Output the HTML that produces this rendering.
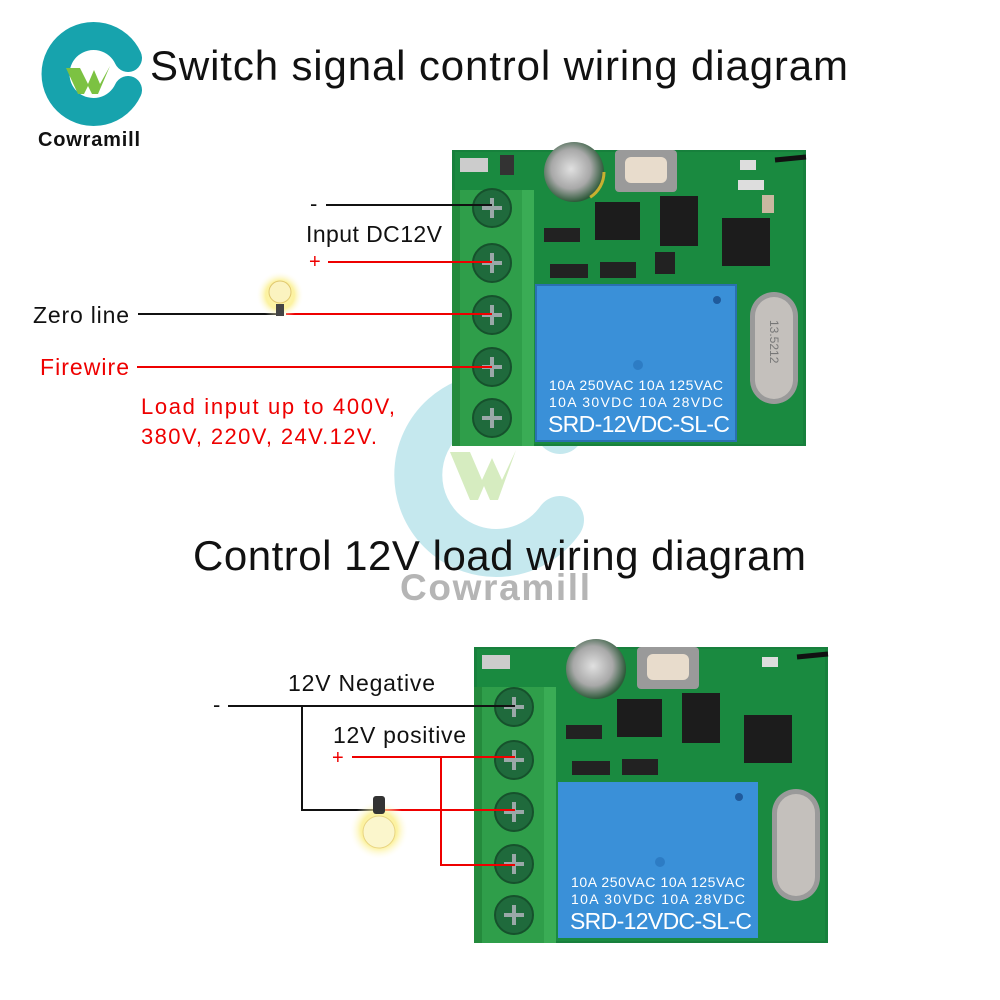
<!DOCTYPE html>
<html><head><meta charset="utf-8"><style>
html,body{margin:0;padding:0;background:#fff;}
svg{display:block;font-family:"Liberation Sans",sans-serif;}
</style></head><body>
<svg width="1000" height="1000" viewBox="0 0 1000 1000" xmlns="http://www.w3.org/2000/svg">
<defs>
<radialGradient id="glow" cx="50%" cy="50%" r="50%"><stop offset="0" stop-color="#fff7b0"/><stop offset="0.6" stop-color="#fbef8a" stop-opacity="0.8"/><stop offset="1" stop-color="#fff" stop-opacity="0"/></radialGradient>
<radialGradient id="cap" cx="45%" cy="45%" r="55%"><stop offset="0" stop-color="#e0e0e0"/><stop offset="0.6" stop-color="#a8a8a8"/><stop offset="1" stop-color="#2e5a3a"/></radialGradient>
</defs>

<path d="M128 58 A38 38 0 1 0 128 90" fill="none" stroke="#17a3ad" stroke-width="28" stroke-linecap="round"/>
<path d="M66 68 L80 68 L88 84 L94 70 L100 84 L110 66 L98 94 L92 94 L88 86 L84 94 L78 94 Z" fill="#7cc242"/>
<text x="38" y="146" font-size="20" font-weight="bold" fill="#111" textLength="102">Cowramill</text>

<text x="150" y="80" font-size="42" fill="#111" textLength="698">Switch signal control wiring diagram</text>

<path d="M560 430 A78 78 0 1 0 560 520" fill="none" stroke="#bfe6ec" stroke-width="48" stroke-linecap="round" opacity="0.9"/>
<path d="M450 452 L470 452 L482 480 L492 458 L502 480 L516 450 L498 500 L490 500 L484 486 L478 500 L470 500 Z" fill="#d6ecc0"/>
<text x="400" y="600" font-size="37" font-weight="bold" fill="#b5b5b5" textLength="190">Cowramill</text>

<text x="193" y="570" font-size="42" fill="#111" textLength="613">Control 12V load wiring diagram</text>

<g>
<rect x="452" y="150" width="354" height="296" fill="#17803c"/>
<rect x="455" y="152" width="348" height="292" fill="#1a8a40"/>
<circle cx="574" cy="172" r="30" fill="url(#cap)"/>
<circle cx="574" cy="172" r="30" fill="none" stroke="#c8b030" stroke-width="3" stroke-dasharray="30 160"/>
<rect x="615" y="150" width="62" height="42" rx="4" fill="#9a9a9a"/>
<rect x="625" y="157" width="42" height="26" rx="6" fill="#e8dccc"/>
<rect x="660" y="196" width="38" height="50" fill="#1c1c1c"/>
<rect x="595" y="202" width="45" height="38" fill="#1c1c1c"/>
<rect x="722" y="218" width="48" height="48" fill="#1c1c1c"/>
<rect x="544" y="228" width="36" height="14" fill="#222"/>
<rect x="550" y="264" width="38" height="14" fill="#222"/>
<rect x="600" y="262" width="36" height="16" fill="#222"/>
<rect x="655" y="252" width="20" height="22" fill="#222"/>
<rect x="500" y="155" width="14" height="20" fill="#333"/>
<rect x="460" y="158" width="28" height="14" fill="#ccc"/>
<rect x="740" y="160" width="16" height="10" fill="#ddd"/>
<rect x="738" y="180" width="26" height="10" fill="#ddd"/>
<rect x="762" y="195" width="12" height="18" fill="#c9b8a0"/>
<line x1="775" y1="160" x2="806" y2="157" stroke="#111" stroke-width="5"/>
<rect x="452" y="190" width="80" height="256" fill="#2f9e4a"/>
<rect x="522" y="190" width="12" height="256" fill="#3aac55"/>
<rect x="452" y="190" width="8" height="256" fill="#248a3c"/>
<g fill="#1f6a3c" stroke="#16512c" stroke-width="2">
<circle cx="492" cy="208" r="19"/><circle cx="492" cy="263" r="19"/><circle cx="492" cy="315" r="19"/><circle cx="492" cy="367" r="19"/><circle cx="492" cy="418" r="19"/>
</g>
<g stroke="#9aa8a8" stroke-width="4">
<path d="M482 208 H502 M492 198 V218 M482 263 H502 M492 253 V273 M482 315 H502 M492 305 V325 M482 367 H502 M492 357 V377 M482 418 H502 M492 408 V428"/>
</g>
<rect x="536" y="285" width="200" height="156" fill="#3a90d8"/>
<rect x="536" y="285" width="200" height="156" fill="none" stroke="#2a70b0" stroke-width="2"/>
<circle cx="717" cy="300" r="4" fill="#1f5a9c"/>
<circle cx="638" cy="365" r="5" fill="#2d7cc4"/>
<text x="549" y="390" font-size="14" fill="#fff" textLength="174">10A 250VAC  10A 125VAC</text>
<text x="549" y="407" font-size="14" fill="#fff" textLength="174">10A  30VDC  10A  28VDC</text>
<text x="548" y="432" font-size="23" fill="#fff" textLength="182">SRD-12VDC-SL-C</text>
<rect x="750" y="292" width="48" height="112" rx="24" fill="#9a9a9a"/>
<rect x="755" y="297" width="38" height="102" rx="19" fill="#c4c0bc"/>
<text x="770" y="320" font-size="12" fill="#777" transform="rotate(90 770 320)">13.5212</text>
</g>

<g transform="translate(22,497)">
<rect x="452" y="150" width="354" height="296" fill="#17803c"/>
<rect x="455" y="152" width="348" height="292" fill="#1a8a40"/>
<circle cx="574" cy="172" r="30" fill="url(#cap)"/>
<rect x="615" y="150" width="62" height="42" rx="4" fill="#9a9a9a"/>
<rect x="625" y="157" width="42" height="26" rx="6" fill="#e8dccc"/>
<rect x="660" y="196" width="38" height="50" fill="#1c1c1c"/>
<rect x="595" y="202" width="45" height="38" fill="#1c1c1c"/>
<rect x="722" y="218" width="48" height="48" fill="#1c1c1c"/>
<rect x="544" y="228" width="36" height="14" fill="#222"/>
<rect x="550" y="264" width="38" height="14" fill="#222"/>
<rect x="600" y="262" width="36" height="16" fill="#222"/>
<rect x="460" y="158" width="28" height="14" fill="#ccc"/>
<rect x="740" y="160" width="16" height="10" fill="#ddd"/>
<line x1="775" y1="160" x2="806" y2="157" stroke="#111" stroke-width="5"/>
<rect x="452" y="190" width="80" height="256" fill="#2f9e4a"/>
<rect x="522" y="190" width="12" height="256" fill="#3aac55"/>
<rect x="452" y="190" width="8" height="256" fill="#248a3c"/>
<g fill="#1f6a3c" stroke="#16512c" stroke-width="2">
<circle cx="492" cy="210" r="19"/><circle cx="492" cy="263" r="19"/><circle cx="492" cy="315" r="19"/><circle cx="492" cy="367" r="19"/><circle cx="492" cy="418" r="19"/>
</g>
<g stroke="#9aa8a8" stroke-width="4">
<path d="M482 210 H502 M492 200 V220 M482 263 H502 M492 253 V273 M482 315 H502 M492 305 V325 M482 367 H502 M492 357 V377 M482 418 H502 M492 408 V428"/>
</g>
<rect x="536" y="285" width="200" height="156" fill="#3a90d8"/>
<circle cx="717" cy="300" r="4" fill="#1f5a9c"/>
<circle cx="638" cy="365" r="5" fill="#2d7cc4"/>
<text x="549" y="390" font-size="14" fill="#fff" textLength="174">10A 250VAC  10A 125VAC</text>
<text x="549" y="407" font-size="14" fill="#fff" textLength="174">10A  30VDC  10A  28VDC</text>
<text x="548" y="432" font-size="23" fill="#fff" textLength="182">SRD-12VDC-SL-C</text>
<rect x="750" y="292" width="48" height="112" rx="24" fill="#9a9a9a"/>
<rect x="755" y="297" width="38" height="102" rx="19" fill="#c4c0bc"/>
</g>

<text x="310" y="211" font-size="22" fill="#111">-</text>
<line x1="326" y1="205" x2="492" y2="205" stroke="#111" stroke-width="2"/>
<text x="306" y="242" font-size="23" fill="#111" textLength="136">Input DC12V</text>
<text x="309" y="268" font-size="20" fill="#e00">+</text>
<line x1="328" y1="262" x2="492" y2="262" stroke="#e00" stroke-width="2"/>
<text x="33" y="323" font-size="23" fill="#111" textLength="96">Zero line</text>
<line x1="138" y1="314" x2="278" y2="314" stroke="#111" stroke-width="2"/>
<line x1="286" y1="314" x2="492" y2="314" stroke="#e00" stroke-width="2"/>
<circle cx="280" cy="295" r="24" fill="url(#glow)"/>
<circle cx="280" cy="292" r="11" fill="#fbf3c0" stroke="#e0c870"/>
<rect x="276" y="304" width="8" height="12" fill="#444"/>
<text x="40" y="375" font-size="23" fill="#e00" textLength="89">Firewire</text>
<line x1="137" y1="367" x2="492" y2="367" stroke="#e00" stroke-width="2"/>
<text x="141" y="414" font-size="22" fill="#e00" textLength="254">Load input up to 400V,</text>
<text x="141" y="444" font-size="22" fill="#e00" textLength="236">380V, 220V, 24V.12V.</text>

<text x="288" y="691" font-size="23" fill="#111" textLength="147">12V Negative</text>
<text x="213" y="712" font-size="22" fill="#111">-</text>
<polyline points="228,706 515,706" fill="none" stroke="#111" stroke-width="2"/>
<polyline points="302,706 302,810 375,810" fill="none" stroke="#111" stroke-width="2"/>
<text x="333" y="743" font-size="23" fill="#111" textLength="133">12V positive</text>
<text x="332" y="764" font-size="20" fill="#e00">+</text>
<line x1="352" y1="757" x2="515" y2="757" stroke="#e00" stroke-width="2"/>
<line x1="385" y1="810" x2="515" y2="810" stroke="#e00" stroke-width="2"/>
<polyline points="441,757 441,865 515,865" fill="none" stroke="#e00" stroke-width="2"/>
<circle cx="379" cy="830" r="30" fill="url(#glow)"/>
<circle cx="379" cy="832" r="16" fill="#fbf6cc" stroke="#e8d480"/>
<rect x="373" y="796" width="12" height="18" rx="3" fill="#333"/>
</svg>
</body></html>
